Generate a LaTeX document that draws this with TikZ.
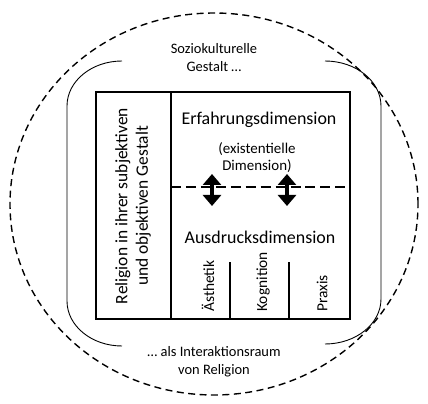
\documentclass[tikz,border=0pt]{standalone}
\usepackage{fontspec}
\setmainfont{Carlito}
\usetikzlibrary{arrows.meta, positioning}
\tikzset{
   outerline/.style={
     line width=1.4pt, dash pattern=on 7pt off 4.5pt
   },
   bracketline/.style={line width=0.9pt},
   frameline/.style={line width=1.3pt},
   splitline/.style={line width=1.7pt, dash pattern=on 10pt off 5pt},
   bigtext/.style={font=\fontsize{18}{20}\selectfont},
   midtext/.style={font=\fontsize{14.5}{18}\selectfont, align=center},
   smalltext/.style={font=\fontsize{15}{17}\selectfont, align=center},
   coltext/.style={font=\fontsize{15.5}{17}\selectfont, rotate=90, anchor=west, inner sep=0pt},
   dimarrow/.style={{Triangle[width=18bp,length=11bp]}-{Triangle[width=18bp,length=11bp]}, line width=4.5bp}
}
\begin{document}
\begin{tikzpicture}[x=1bp,y=1bp]
            \useasboundingbox (0,0) rectangle (428,404);
            % outer space
            \draw[outerline] (214,200) ellipse [x radius=204, y radius=191];
            \draw[bracketline] (122,343) arc[start angle=90, end angle=180, x radius=55, y radius=45]
                -- (67,103) arc[start angle=180, end angle=270, x radius=55, y radius=45];
            \draw[bracketline] (325,343) arc[start angle=90, end angle=0, x radius=56, y radius=45]
                -- (381,105) arc[start angle=0, end angle=-90, x radius=56, y radius=45];
            \node[midtext](top) at (214,346) {Soziokulturelle\\Gestalt \dots};
            \node[midtext](bottom) at (214,42) {\dots{} als Interaktionsraum\\von Religion};

            % frame
            \draw[frameline] (96,85) rectangle (350,312);
            \draw[frameline] (171,85) -- (171,312);
            \node[midtext, font=\fontsize{17.5}{20.5}\selectfont, rotate=90](religion) at (133,198) {Religion in ihrer subjektiven\\und objektiven Gestalt};

            % dimensions
            \node[bigtext](erfahrung) at (259,284) {Erfahrungsdimension};
            \node[smalltext](existenz) at (257,246) {(existentielle\\Dimension)};
            \node[bigtext](ausdruck) at (260,167) {Ausdrucksdimension};
            \coordinate (split) at (171,217);
            \coordinate (splitend) at (347,217);
            \draw[splitline] (split) -- (splitend);
            \coordinate (a1) at (212,230);
            \coordinate (b1) at (212,198);
            \coordinate (a2) at (287,230);
            \coordinate (b2) at (287,198);
            \draw[dimarrow] (a1) -- (b1);
            \draw[dimarrow] (a2) -- (b2);

            % columns
            \draw[frameline] (230,85) -- (230,142);
            \draw[frameline] (289,85) -- (289,142);
            \node[coltext](aesthetik) at (208,92) {Ästhetik};
            \node[coltext](kognition) at (263,92) {Kognition};
            \node[coltext](praxis) at (322,92) {Praxis};
         \end{tikzpicture}
\end{document}
